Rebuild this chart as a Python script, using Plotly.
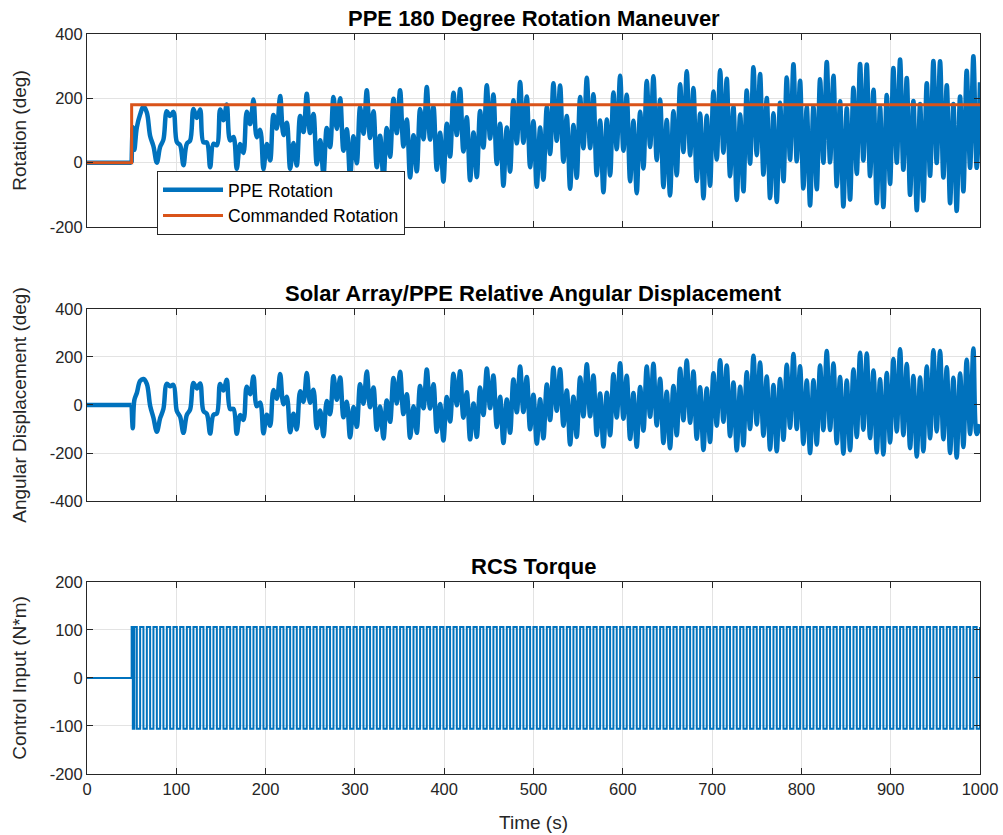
import plotly.graph_objects as go

# ---------------- data ----------------
time_s = [0, 50.0, 50.0, 50.0, 51.3, 53.0, 55.8,
    59.5, 63.2, 67.0, 70.7, 74.4, 78.2, 81.9, 85.6, 89.4, 93.1,
    96.8, 100.6, 104.3, 108.0, 111.8, 115.5, 119.2, 123.0, 126.7, 130.4,
    134.2, 137.9, 141.6, 145.4, 149.1, 152.8, 156.5, 160.3, 164.0, 167.7,
    171.5, 175.2, 178.9, 182.7, 186.4, 190.1, 193.9, 197.6, 201.3, 205.1,
    208.8, 212.5, 216.3, 220.0, 223.7, 227.5, 231.2, 234.9, 238.7, 242.4,
    246.1, 249.8, 253.6, 257.3, 261.1, 264.8, 268.5, 272.2, 276.0, 279.7,
    283.5, 287.2, 290.9, 294.6, 298.4, 302.1, 305.8, 309.6, 313.3, 317.0,
    320.8, 324.5, 328.2, 332.0, 335.7, 339.4, 343.2, 346.9, 350.6, 354.4,
    358.1, 361.8, 365.6, 369.3, 373.0, 376.8, 380.5, 384.2, 388.0, 391.7,
    395.4, 399.1, 402.9, 406.6, 410.4, 414.1, 417.8, 421.5, 425.3, 429.0,
    432.8, 436.5, 440.2, 443.9, 447.7, 451.4, 455.1, 458.9, 462.6, 466.3,
    470.1, 473.8, 477.5, 481.3, 485.0, 488.7, 492.5, 496.2, 499.9, 503.7,
    507.4, 511.1, 514.9, 518.6, 522.3, 526.0, 529.8, 533.5, 537.3, 541.0,
    544.7, 548.4, 552.2, 555.9, 559.7, 563.4, 567.1, 570.8, 574.6, 578.3,
    582.1, 585.8, 589.5, 593.2, 597.0, 600.7, 604.4, 608.2, 611.9, 615.6,
    619.4, 623.1, 626.8, 630.6, 634.3, 638.0, 641.8, 645.5, 649.2, 652.9,
    656.7, 660.4, 664.2, 667.9, 671.6, 675.4, 679.1, 682.8, 686.6, 690.3,
    694.0, 697.7, 701.5, 705.2, 709.0, 712.7, 716.4, 720.1, 723.9, 727.6,
    731.4, 735.1, 738.8, 742.5, 746.3, 750.0, 753.7, 757.5, 761.2, 764.9,
    768.7, 772.4, 776.1, 779.9, 783.6, 787.3, 791.1, 794.8, 798.5, 802.2,
    806.0, 809.7, 813.5, 817.2, 820.9, 824.6, 828.4, 832.1, 835.9, 839.6,
    843.3, 847.0, 850.8, 854.5, 858.3, 862.0, 865.7, 869.4, 873.2, 876.9,
    880.7, 884.4, 888.1, 891.8, 895.6, 899.3, 903.0, 906.8, 910.5, 914.2,
    918.0, 921.7, 925.4, 929.2, 932.9, 936.6, 940.4, 944.1, 947.8, 951.5,
    955.3, 959.0, 962.8, 966.5, 970.2, 973.9, 977.7, 981.4, 985.1, 988.9,
    992.6, 996.3,
    1000]

ppe_rotation_deg = [0, 0, None, 0, 110, 40, 110,
    150, 175, 156, 83, 51, 0, 49, 72, 160, 145,
    158, 64, 54, -8, 59, 69, 167, 139, 165, 63,
    63, -14, 59, 54, 165, 132, 181, 69, 80, -19,
    58, 30, 158, 120, 196, 79, 102, -20, 58, 7,
    148, 106, 207, 86, 124, -19, 61, -9, 145, 95,
    214, 92, 151, -5, 70, -37, 108, 48, 204, 105,
    200, 37, 104, -44, 82, -2, 173, 90, 225, 77,
    160, -14, 84, -50, 108, 18, 199, 92, 225, 50,
    134, -46, 85, -27, 167, 73, 235, 72, 174, -22,
    93, -59, 121, 19, 217, 86, 229, 35, 141, -55,
    94, -45, 161, 47, 241, 75, 212, -4, 121, -72,
    109, -28, 194, 60, 251, 62, 206, -14, 129, -75,
    109, -53, 173, 27, 247, 68, 240, 3, 145, -81,
    117, -47, 204, 45, 264, 45, 213, -39, 131, -92,
    134, -40, 218, 42, 270, 37, 211, -58, 130, -95,
    158, -18, 254, 49, 269, 8, 196, -76, 133, -102,
    160, -39, 244, 33, 284, 23, 232, -57, 153, -111,
    146, -72, 221, 10, 287, 31, 261, -42, 174, -116,
    150, -89, 224, -3, 297, 23, 276, -37, 201, -110,
    154, -122, 186, -58, 265, 9, 306, 4, 255, -80,
    173, -133, 175, -83, 259, 0, 313, 1, 270, -73,
    191, -136, 169, -115, 233, -35, 307, 7, 305, -42,
    227, -126, 172, -138, 210, -66, 294, 0, 321, -22,
    263, -100, 192, -148, 182, -118, 247, -41, 316, -1,
    315, -46, 241, -126, 182, -150, 206, -89, 286, -16,
    331, -16,
    250]

commanded_time_s = [0, 50, 50, 1000]
commanded_rotation_deg = [0, 0, 180, 180]

relative_disp_deg = [0, 0, None, 0, -97, 20, 50,
    100, 108, 88, -3, -53, -111, -55, -16, 88, 78,
    84, -25, -49, -116, -41, -19, 92, 69, 90, -25,
    -37, -119, -41, -36, 88, 60, 105, -17, -16, -120,
    -42, -62, 76, 45, 119, -5, 10, -118, -41, -86,
    62, 26, 129, 3, 34, -114, -36, -102, 57, 13,
    133, 9, 64, -96, -23, -130, 17, -39, 120, 22,
    115, -51, 14, -135, -8, -91, 86, 5, 140, -9,
    73, -103, -6, -140, 19, -70, 112, 6, 139, -38,
    45, -136, -5, -116, 79, -14, 148, -15, 86, -111,
    4, -148, 33, -69, 130, -1, 141, -53, 53, -143,
    6, -133, 73, -42, 152, -13, 123, -92, 34, -158,
    23, -116, 106, -30, 160, -29, 117, -101, 43, -161,
    24, -139, 85, -63, 155, -24, 149, -86, 60, -165,
    34, -133, 115, -47, 170, -47, 123, -125, 48, -173,
    51, -126, 128, -52, 174, -57, 122, -142, 50, -174,
    75, -107, 160, -49, 172, -85, 109, -158, 55, -180,
    79, -126, 151, -64, 185, -74, 140, -141, 74, -187,
    69, -154, 132, -86, 186, -70, 165, -130, 94, -189,
    76, -168, 136, -100, 205, -81, 177, -128, 119, -185,
    83, -193, 108, -145, 168, -95, 212, -100, 161, -162,
    102, -201, 103, -165, 165, -105, 225, -104, 173, -159,
    117, -203, 102, -189, 148, -133, 218, -103, 215, -138,
    144, -197, 107, -206, 133, -156, 192, -110, 232, -126,
    171, -180, 121, -215, 115, -193, 160, -139, 228, -110,
    225, -143, 157, -200, 113, -219, 131, -175, 189, -121,
    235, -121,
    -80]

rcs_torque_nm = [0, 106, 106, 106, -106, 106, -106,
    106, -106, 106, -106, 106, -106, 106, -106, 106, -106,
    106, -106, 106, -106, 106, -106, 106, -106, 106, -106,
    106, -106, 106, -106, 106, -106, 106, -106, 106, -106,
    106, -106, 106, -106, 106, -106, 106, -106, 106, -106,
    106, -106, 106, -106, 106, -106, 106, -106, 106, -106,
    106, -106, 106, -106, 106, -106, 106, -106, 106, -106,
    106, -106, 106, -106, 106, -106, 106, -106, 106, -106,
    106, -106, 106, -106, 106, -106, 106, -106, 106, -106,
    106, -106, 106, -106, 106, -106, 106, -106, 106, -106,
    106, -106, 106, -106, 106, -106, 106, -106, 106, -106,
    106, -106, 106, -106, 106, -106, 106, -106, 106, -106,
    106, -106, 106, -106, 106, -106, 106, -106, 106, -106,
    106, -106, 106, -106, 106, -106, 106, -106, 106, -106,
    106, -106, 106, -106, 106, -106, 106, -106, 106, -106,
    106, -106, 106, -106, 106, -106, 106, -106, 106, -106,
    106, -106, 106, -106, 106, -106, 106, -106, 106, -106,
    106, -106, 106, -106, 106, -106, 106, -106, 106, -106,
    106, -106, 106, -106, 106, -106, 106, -106, 106, -106,
    106, -106, 106, -106, 106, -106, 106, -106, 106, -106,
    106, -106, 106, -106, 106, -106, 106, -106, 106, -106,
    106, -106, 106, -106, 106, -106, 106, -106, 106, -106,
    106, -106, 106, -106, 106, -106, 106, -106, 106, -106,
    106, -106, 106, -106, 106, -106, 106, -106, 106, -106,
    106, -106, 106, -106, 106, -106, 106, -106, 106, -106,
    106, -106, 106, -106, 106, -106, 106, -106, 106, -106,
    106, -106,
    106]

x_ticks = [0, 100, 200, 300, 400, 500, 600, 700, 800, 900, 1000]
x_tick_text = ["0", "100", "200", "300", "400", "500", "600", "700", "800", "900", "1000"]
rot_ticks = [-200, 0, 200, 400]
rot_tick_text = ["-200", "0", "200", "400"]
disp_ticks = [-400, -200, 0, 200, 400]
disp_tick_text = ["-400", "-200", "0", "200", "400"]
torque_ticks = [-200, -100, 0, 100, 200]
torque_tick_text = ["-200", "-100", "0", "100", "200"]

assert len(time_s) == len(ppe_rotation_deg) == len(relative_disp_deg) == len(rcs_torque_nm), (
    len(time_s), len(ppe_rotation_deg), len(relative_disp_deg), len(rcs_torque_nm))

# ---------------- style ----------------
BLUE = "#0072BD"
ORANGE = "#D95319"
AX = "#262626"
GRID = "#e3e3e3"
FONT = "Liberation Sans, Arial, Helvetica, sans-serif"

fig = go.Figure()
fig.add_trace(go.Scatter(x=time_s, y=ppe_rotation_deg, mode="lines", name="PPE Rotation",
                         line=dict(color=BLUE, width=4.5, shape="spline"), xaxis="x", yaxis="y"))
fig.add_trace(go.Scatter(x=commanded_time_s, y=commanded_rotation_deg, mode="lines",
                         name="Commanded Rotation", line=dict(color=ORANGE, width=3),
                         xaxis="x", yaxis="y"))
fig.add_trace(go.Scatter(x=time_s, y=relative_disp_deg, mode="lines", showlegend=False,
                         line=dict(color=BLUE, width=4.5, shape="spline"), xaxis="x2", yaxis="y2"))
fig.add_trace(go.Scatter(x=time_s, y=rcs_torque_nm, mode="lines", showlegend=False,
                         line=dict(color=BLUE, width=2, shape="hv"), xaxis="x3", yaxis="y3"))


def xax(anchor, labels):
    return dict(anchor=anchor, domain=[0, 1], range=[0, 1000], tickvals=x_ticks,
                ticktext=x_tick_text, automargin=False,
                showticklabels=labels, showgrid=True, gridcolor=GRID, gridwidth=1,
                showline=True, linecolor=AX, linewidth=1, mirror="ticks",
                ticks="inside", ticklen=6, tickcolor=AX, zeroline=False,
                tickfont=dict(size=16.5, color=AX, family=FONT))


def yax(anchor, dom, rng, vals, texts, title):
    return dict(anchor=anchor, domain=dom, range=rng, tickvals=vals, ticktext=texts,
                automargin=False,
                showgrid=True, gridcolor=GRID, gridwidth=1,
                showline=True, linecolor=AX, linewidth=1, mirror="ticks",
                ticks="inside", ticklen=6, tickcolor=AX, zeroline=False,
                tickfont=dict(size=16.5, color=AX, family=FONT),
                title=dict(text=title, font=dict(size=19, color=AX, family=FONT), standoff=18))


fig.update_layout(
    width=1003, height=835,
    margin=dict(l=87, r=23, t=34, b=61),
    paper_bgcolor="white", plot_bgcolor="white",
    font=dict(family=FONT, color=AX),
    xaxis=xax("y", False),
    xaxis2=xax("y2", False),
    xaxis3=dict(xax("y3", True), title=dict(text="Time (s)",
                font=dict(size=19, color=AX, family=FONT), standoff=18)),
    yaxis=yax("x", [0.7392, 1.0], [-200, 400], rot_ticks, rot_tick_text, "Rotation (deg)"),
    yaxis2=yax("x2", [0.3689, 0.6284], [-400, 400], disp_ticks, disp_tick_text,
               "Angular Displacement (deg)"),
    yaxis3=yax("x3", [0.0, 0.2595], [-200, 200], torque_ticks, torque_tick_text,
               "Control Input (N*m)"),
    legend=dict(x=0.0784, y=0.8149, xanchor="left", yanchor="top",
                bgcolor="white", bordercolor=AX, borderwidth=1,
                font=dict(size=17.5, color="black", family=FONT),
                itemwidth=60, tracegroupgap=0),
    showlegend=True,
)

titles = [("PPE 180 Degree Rotation Maneuver", 1.0216),
          ("Solar Array/PPE Relative Angular Displacement", 0.650),
          ("RCS Torque", 0.281)]
for txt, yy in titles:
    fig.add_annotation(text="<b>%s</b>" % txt, x=0.5, y=yy, xref="paper", yref="paper",
                       xanchor="center", yanchor="middle", showarrow=False,
                       font=dict(size=22, color="black", family=FONT))

fig.write_html("out.html")
